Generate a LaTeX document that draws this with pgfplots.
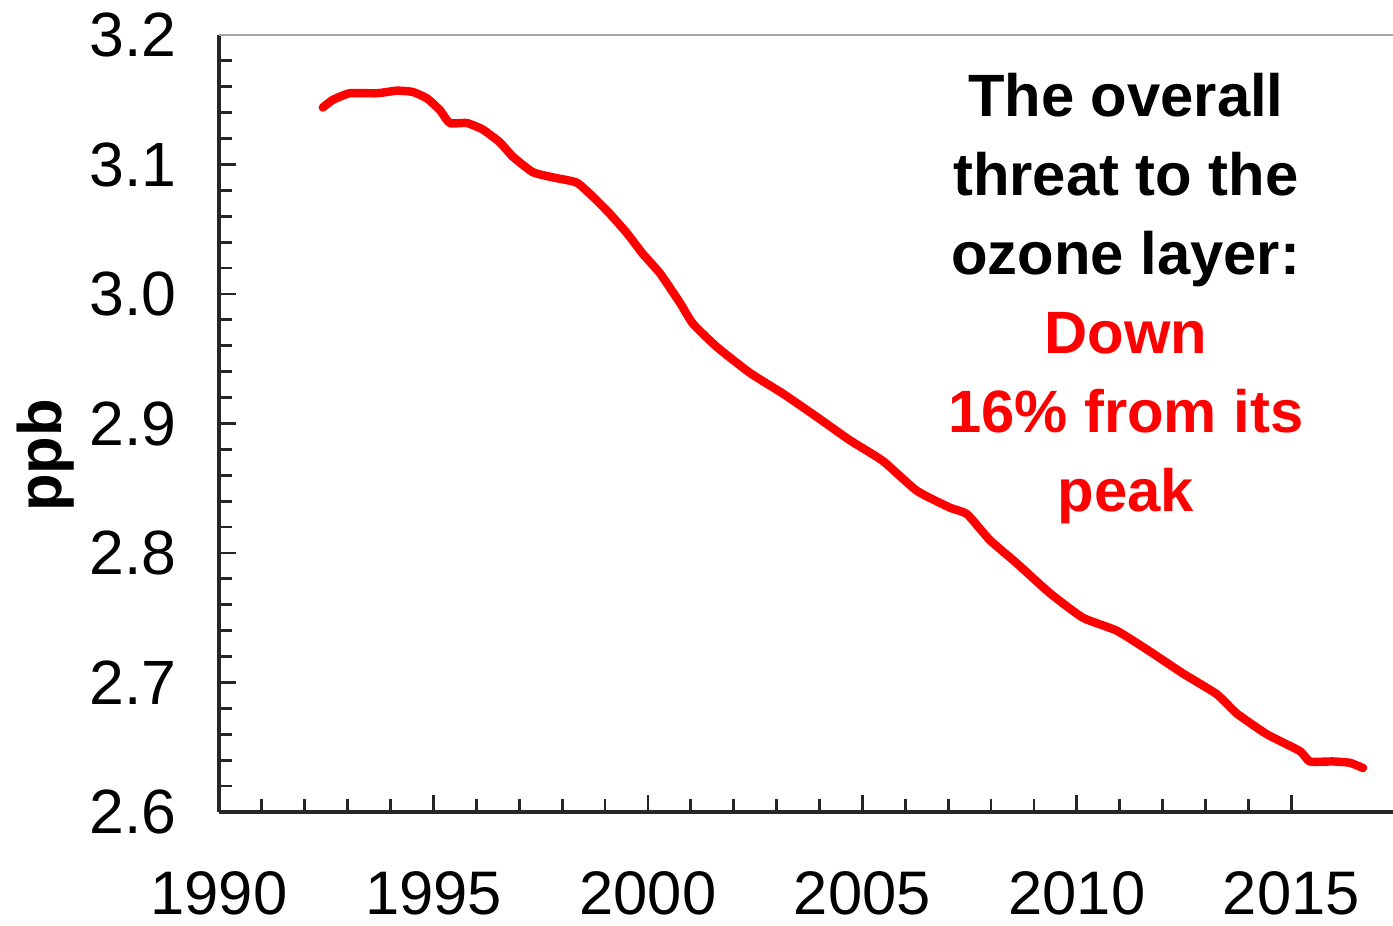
\documentclass[border=0pt]{standalone}
\usepackage{fontspec}
\setmainfont{Liberation Sans}
\usepackage{pgfplots}
\pgfplotsset{compat=1.18}

\begin{document}
\begin{tikzpicture}
\begin{axis}[
    name=ax,
    scale only axis,
    width=11.74cm,
    height=7.77cm,
    xmin=1990, xmax=2017.37,
    ymin=2.6, ymax=3.2,
    axis lines=left,
    axis line style={-, line width=0.9pt, black!85},
    xtick={1990,1995,...,2015},
    ytick={2.6,2.7,...,3.2},
    minor x tick num=4,
    minor y tick num=4,
    tick align=inside,
    major tick length=0.17cm,
    minor tick length=0.13cm,
    tick style={line width=0.8pt, black!85},
    /pgf/number format/assume math mode=true,
    x tick label style={/pgf/number format/1000 sep={}, font=\fontsize{17.5}{20}\selectfont, yshift=-0.47cm},
    y tick label style={/pgf/number format/fixed, /pgf/number format/fixed zerofill, /pgf/number format/precision=1, font=\fontsize{17.8}{20}\selectfont, xshift=-0.3cm},
    ylabel={\bfseries ppb},
    ylabel style={at={(axis description cs:-0.148,0.459)}, anchor=center, font=\fontsize{17.5}{20}\selectfont},
]
\addplot[red, line width=2.4pt, line join=round, line cap=round, smooth, tension=0.3] coordinates {
    (1992.42,3.144) (1992.66,3.150) (1993.05,3.155) (1993.68,3.155)
    (1994.15,3.157) (1994.52,3.156) (1994.85,3.151) (1995.15,3.142)
    (1995.38,3.132) (1995.78,3.132) (1996.15,3.127) (1996.55,3.117)
    (1996.85,3.106) (1997.32,3.094) (1997.79,3.090) (1998.34,3.086)
    (1998.72,3.075) (1999.11,3.062) (1999.51,3.047) (1999.88,3.031)
    (2000.28,3.016) (2000.75,2.993) (2001.05,2.977) (2001.61,2.959)
    (2002.38,2.939) (2003.15,2.923) (2003.94,2.905) (2004.71,2.887)
    (2005.48,2.871) (2006.27,2.848) (2007.04,2.835) (2007.44,2.830)
    (2007.97,2.810) (2008.60,2.792) (2009.37,2.769) (2010.14,2.750)
    (2010.93,2.740) (2011.70,2.724) (2012.47,2.707) (2013.26,2.691)
    (2013.73,2.676) (2014.43,2.660) (2015.20,2.647) (2015.43,2.639)
    (2015.97,2.639) (2016.36,2.638) (2016.67,2.634)
};
% gray top frame line
\draw[gray!70, line width=0.7pt] (rel axis cs:0,1) -- (rel axis cs:1,1);
\node[anchor=north, inner sep=0pt, align=center,
      font=\fontsize{17}{22.5}\selectfont\bfseries]
    at (axis cs:2011.14,3.171)
    {The overall\\threat to the\\ozone layer:\\\textcolor{red}{Down}\\\textcolor{red}{16\% from its}\\\textcolor{red}{peak}};
\end{axis}
\pgfresetboundingbox
\path ([shift={(-2.19cm,-1.14cm)}]ax.south west) rectangle ([shift={(0cm,0.35cm)}]ax.north east);
\end{tikzpicture}
\end{document}
